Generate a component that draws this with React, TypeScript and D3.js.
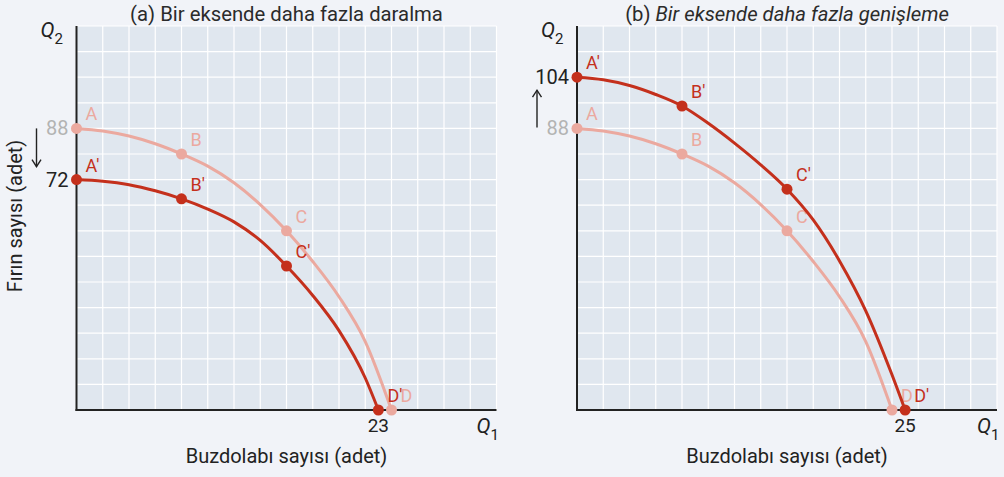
import * as d3 from 'd3';

const W = 1004,
  H = 477;

// labelled points (Q1 = buzdolabı, Q2 = fırın)
const baseQ1 = [0, 8, 16, 24];
const baseQ2 = [88, 80, 56, 0];
const contractQ1 = [0, 8, 16, 23];
const contractQ2 = [72, 66, 45, 0];
const expandQ1 = [0, 8, 16, 25];
const expandQ2 = [104, 95, 69, 0];
const baseLabels = ['A', 'B', 'C', 'D'];
const shiftLabels = ['A′', 'B′', 'C′', 'D′'];

// curve traces, every 2 units of Q1
const baseCurveQ1 = [0, 2, 4, 6, 8, 10, 12, 14, 16, 18, 20, 22, 24];
const baseCurveQ2 = [88, 87.2, 85.6, 83.2, 80, 76.2, 71, 64.2, 56, 46.4, 35.4, 21.4, 0];
const contractCurveQ1 = [0, 2, 4, 6, 8, 10, 12, 14, 16, 18, 20, 22, 23];
const contractCurveQ2 = [72, 71.5, 70.4, 68.5, 66, 62.8, 58.8, 53, 45, 35.8, 24.8, 10, 0];
const expandCurveQ1 = [0, 2, 4, 6, 8, 10, 12, 14, 16, 18, 20, 22, 24, 25];
const expandCurveQ2 = [104, 103.2, 101.4, 98.6, 95, 89.6, 83.4, 76.6, 69, 59.4, 46.6, 31, 11, 0];

const xTicksGrid = d3.range(0, 33, 2);
const yTicksGrid = d3.range(0, 121, 8);

const DARK = '#c4301c',
  LIGHT = '#eba99f',
  FONT = 'Roboto, sans-serif';

type Series = {
  q1: number[];
  q2: number[];
  cq1: number[];
  cq2: number[];
  labels: string[];
  color: string;
};

function Panel({
  left,
  title,
  italic,
  series,
  yTicks,
  xTick,
  arrow,
  showYLabel,
}: {
  left: number;
  title: string;
  italic: boolean;
  series: Series[];
  yTicks: { v: number; color: string }[];
  xTick: number;
  arrow: 'down' | 'up';
  showYLabel: boolean;
}) {
  const top = 26,
    bottom = 410,
    width = 420;
  const x = d3.scaleLinear().domain([0, 32]).range([left, left + width]);
  const y = d3.scaleLinear().domain([0, 120]).range([bottom, top]);
  const line = d3
    .line<[number, number]>()
    .x((d) => x(d[0]))
    .y((d) => y(d[1]))
    .curve(d3.curveMonotoneX);

  const cx = left + width / 2;
  const arrowX = left - 40;
  const yA = y(yTicks[0].v),
    yB = y(yTicks[1].v);
  const a0 = arrow === 'down' ? Math.min(yA, yB) : Math.max(yA, yB) - 1;
  const a1 = arrow === 'down' ? Math.max(yA, yB) - 14 : Math.min(yA, yB) + 14;

  return (
    <g fontFamily={FONT}>
      <text x={cx} y={21} textAnchor="middle" fontSize={20.3} fill="#2b2b2b">
        {italic ? (
          <>
            (b) <tspan fontStyle="italic">{title}</tspan>
          </>
        ) : (
          `(a) ${title}`
        )}
      </text>
      <rect x={left} y={top} width={width} height={bottom - top} fill="#e0e7ef" />
      {xTicksGrid.map((t) => (
        <line key={'x' + t} x1={x(t)} x2={x(t)} y1={top} y2={bottom} stroke="#fff" strokeWidth={1.2} />
      ))}
      {yTicksGrid.map((t) => (
        <line key={'y' + t} x1={left} x2={left + width} y1={y(t)} y2={y(t)} stroke="#fff" strokeWidth={1.2} />
      ))}
      <line x1={left} x2={left} y1={top} y2={bottom + 1} stroke="#222" strokeWidth={2} />
      <line x1={left - 1} x2={left + width} y1={bottom} y2={bottom} stroke="#222" strokeWidth={2} />

      {series.map((s, i) => (
        <g key={i}>
          <path
            d={line(s.cq1.map((q, j) => [q, s.cq2[j]] as [number, number])) || ''}
            fill="none"
            stroke={s.color}
            strokeWidth={3}
          />
          {s.q1.map((q, j) => (
            <g key={j}>
              <circle cx={x(q)} cy={y(s.q2[j])} r={5.5} fill={s.color} />
              <text x={x(q) + 9} y={y(s.q2[j]) - 8} fontSize={18} fill={s.color}>
                {s.labels[j]}
              </text>
            </g>
          ))}
        </g>
      ))}

      {yTicks.map((t) => (
        <text key={t.v} x={left - 8} y={y(t.v)} dy="0.35em" textAnchor="end" fontSize={20} fill={t.color}>
          {t.v}
        </text>
      ))}
      <text x={x(xTick)} y={432} textAnchor="middle" fontSize={19} fill="#222">
        {xTick}
      </text>

      <line x1={arrowX} x2={arrowX} y1={a0} y2={a1 + (arrow === 'down' ? 1 : -1)} stroke="#222" strokeWidth={1.4} />
      <path
        d={
          arrow === 'down'
            ? `M${arrowX - 4.5},${a1 - 6} L${arrowX},${a1 + 1} L${arrowX + 4.5},${a1 - 6}`
            : `M${arrowX - 4.5},${a1 + 6} L${arrowX},${a1 - 1} L${arrowX + 4.5},${a1 + 6}`
        }
        fill="none"
        stroke="#222"
        strokeWidth={1.4}
      />

      <text x={left - 36} y={37} fontSize={21} fontStyle="italic" fill="#222">
        Q<tspan fontSize={15} fontStyle="normal" dy={7}>2</tspan>
      </text>
      <text x={left + width - 20} y={433} fontSize={21} fontStyle="italic" fill="#222">
        Q<tspan fontSize={15} fontStyle="normal" dy={7}>1</tspan>
      </text>
      <text x={cx} y={463} textAnchor="middle" fontSize={20} fill="#222">
        Buzdolabı sayısı (adet)
      </text>
      {showYLabel && (
        <text
          transform={`translate(22,${216}) rotate(-90)`}
          textAnchor="middle"
          fontSize={20}
          fill="#222"
        >
          Fırın sayısı (adet)
        </text>
      )}
    </g>
  );
}

export default function App() {
  const base: Series = {
    q1: baseQ1,
    q2: baseQ2,
    cq1: baseCurveQ1,
    cq2: baseCurveQ2,
    labels: baseLabels,
    color: LIGHT,
  };
  const contract: Series = {
    q1: contractQ1,
    q2: contractQ2,
    cq1: contractCurveQ1,
    cq2: contractCurveQ2,
    labels: shiftLabels,
    color: DARK,
  };
  const expand: Series = {
    q1: expandQ1,
    q2: expandQ2,
    cq1: expandCurveQ1,
    cq2: expandCurveQ2,
    labels: shiftLabels,
    color: DARK,
  };
  return (
    <svg width={W} height={H} style={{ position: 'absolute', left: 0, top: 0 }}>
      <rect width={W} height={H} fill="#f1f3f8" />
      <Panel
        left={76.5}
        title="Bir eksende daha fazla daralma"
        italic={false}
        series={[base, contract]}
        yTicks={[
          { v: 88, color: '#b3b3b3' },
          { v: 72, color: '#222' },
        ]}
        xTick={23}
        arrow="down"
        showYLabel
      />
      <Panel
        left={577}
        title="Bir eksende daha fazla genişleme"
        italic
        series={[base, expand]}
        yTicks={[
          { v: 104, color: '#222' },
          { v: 88, color: '#b3b3b3' },
        ]}
        xTick={25}
        arrow="up"
        showYLabel={false}
      />
    </svg>
  );
}
